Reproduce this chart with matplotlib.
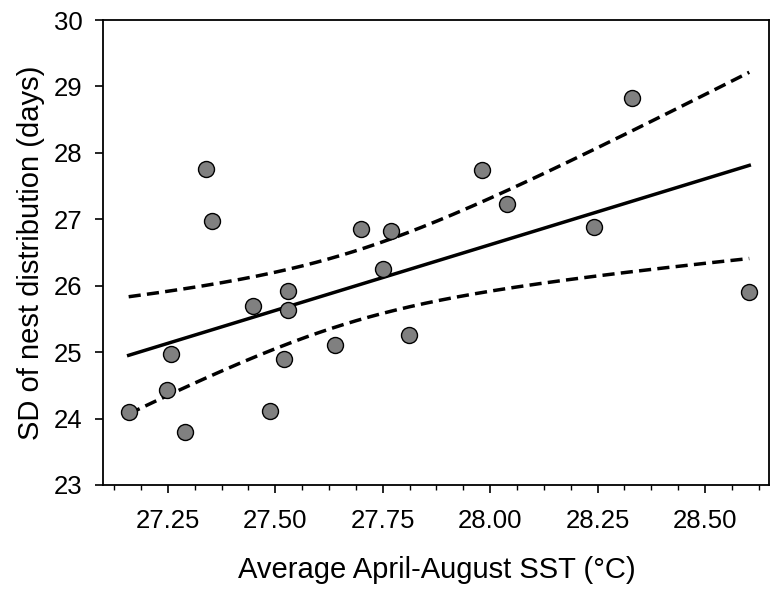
import numpy as np
import matplotlib
matplotlib.use('Agg')
from matplotlib import pyplot as plt
from matplotlib.ticker import AutoMinorLocator

plt.rcParams['font.family'] = ['Liberation Sans', 'DejaVu Sans']

# mean April-August SST (deg C) and SD of nest distribution (days)
sst = [27.159, 27.248, 27.258, 27.291, 27.340, 27.352, 27.449, 27.489,
       27.520, 27.529, 27.530, 27.639, 27.700, 27.750, 27.770, 27.811,
       27.980, 28.040, 28.241, 28.331, 28.603]
sd_days = [24.10, 24.435, 24.965, 23.80, 27.75, 26.975, 25.69, 24.115,
           24.90, 25.925, 25.635, 25.115, 26.85, 26.25, 26.825, 25.265,
           27.74, 27.225, 26.885, 28.825, 25.90]

x_ticks = [27.25, 27.50, 27.75, 28.00, 28.25, 28.50]
y_ticks = [23, 24, 25, 26, 27, 28, 29, 30]
t_crit = 2.093  # t(0.975, df=19)


def fit_with_ci(x, y, xs):
    x = np.asarray(x)
    y = np.asarray(y)
    n = len(x)
    b, a = np.polyfit(x, y, 1)
    resid = y - (a + b * x)
    s = np.sqrt(np.sum(resid ** 2) / (n - 2))
    sxx = np.sum((x - x.mean()) ** 2)
    yhat = a + b * xs
    half = t_crit * s * np.sqrt(1.0 / n + (xs - x.mean()) ** 2 / sxx)
    return yhat, yhat - half, yhat + half


fig = plt.figure(figsize=(7.71, 5.90), dpi=100)
ax = fig.add_axes([0.134, 0.178, 0.864, 0.788])

xs = np.linspace(min(sst), max(sst), 200)
yhat, lo, hi = fit_with_ci(sst, sd_days, xs)
ax.plot(xs, yhat, color='black', lw=2.5, zorder=2)
ax.plot(xs, lo, color='black', lw=2.5, ls=(0, (3.5, 1.8)), zorder=2)
ax.plot(xs, hi, color='black', lw=2.5, ls=(0, (3.5, 1.8)), zorder=2)

ax.plot(sst, sd_days, 'o', ms=11.5, mfc='#808080', mec='black', mew=1.0,
        zorder=3)

ax.set_xlim(27.10, 28.65)
ax.set_ylim(23, 30)
ax.set_xticks(x_ticks)
ax.set_xticklabels(['%.2f' % v for v in x_ticks])
ax.set_yticks(y_ticks)
ax.xaxis.set_minor_locator(AutoMinorLocator(4))

ax.tick_params(axis='both', which='major', direction='out', length=5.5,
               width=1.2, labelsize=18.5, color='black')
ax.tick_params(axis='x', which='major', pad=12)
ax.tick_params(axis='y', which='major', pad=9.5)
ax.tick_params(axis='x', which='minor', direction='out', length=3.5,
               width=1.0)
for sp in ax.spines.values():
    sp.set_linewidth(1.3)

ax.set_xlabel('Average April-August SST (°C)', fontsize=21, labelpad=16)
ax.set_ylabel('SD of nest distribution (days)', fontsize=21, labelpad=6.5)

fig.savefig('out.png', dpi=100)
